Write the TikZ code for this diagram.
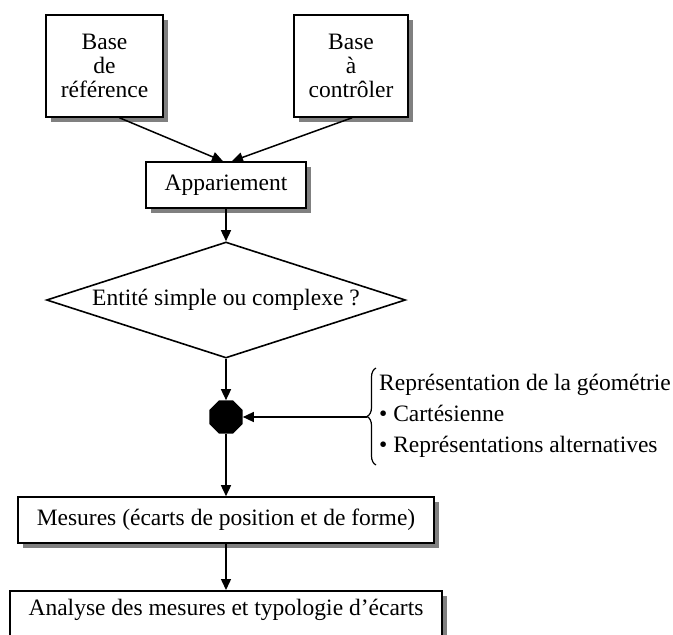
\documentclass[tikz,border=0pt]{standalone}
\usepackage{fontspec}
\setmainfont{Liberation Serif}
\usetikzlibrary{arrows.meta,shapes.geometric,shadows,decorations.pathreplacing,calc}
\begin{document}
\begin{tikzpicture}[x=1pt,y=-1pt,
  every node/.style={font=\fontsize{23.5}{24}\selectfont, inner sep=0pt},
  box/.style={draw, line width=1.6pt, fill=white, align=center,
    drop shadow={shadow xshift=5pt, shadow yshift=-5pt, fill=black!50, opacity=1}},
  link/.style={line width=1.5pt, -{Triangle[length=11pt,width=10pt]}},
  choice/.style={draw, diamond, aspect=3.1, line width=1.6pt},
  junction/.style={regular polygon, regular polygon sides=8, fill=black, minimum size=36pt},
  bracket/.style={line width=1.2pt, decorate, decoration={brace, amplitude=9pt}}
]
\useasboundingbox (0,0) rectangle (673,635);

% input databases
\node[box, minimum width=117pt, minimum height=102pt] (ref) at (104.5,66) {Base\\de\\référence};
\node[box, minimum width=114pt, minimum height=102pt] (ctl) at (351,66) {Base\\à\\contrôler};

% processing chain
\node[box, minimum width=160pt, minimum height=46pt] (app) at (226,185) {Appariement};
\node[choice, minimum width=359pt, minimum height=116pt] (ent) at (226,300) {Entité simple ou complexe ?};
\node[junction] (oct) at (226,417) {};
\node[box, minimum width=416pt, minimum height=46pt] (mes) at (226,520) {Mesures (écarts de position et de forme)};
\node[box, anchor=north, minimum width=432pt, text height=25pt, text depth=25pt] (ana) at (226,590) {Analyse des mesures et typologie d’écarts};

% geometry representation options
\coordinate (btop) at (376,368);
\coordinate (bbot) at (376,465);
\coordinate (btip) at (367,417);
\draw[bracket] (bbot) -- (btop);
\node[anchor=west, align=left, font=\fontsize{23.5}{31}\selectfont] (geo) at (379,416)
  {Représentation de la géométrie\\• Cartésienne\\• Représentations alternatives};

% connectors
\draw[link] ($(ref.south)+(15,0)$) -- ($(app.north)+(-3,0)$);
\draw[link] ($(ctl.south)+(1,0)$) -- ($(app.north)+(6,0)$);
\draw[link] (app.south) -- (ent.north);
\draw[link] (ent.south) -- (oct.north);
\draw[link] (btip) -- (oct.east);
\draw[link] (oct.south) -- (mes.north);
\draw[link] (mes.south) -- (ana.north);
\end{tikzpicture}
\end{document}
